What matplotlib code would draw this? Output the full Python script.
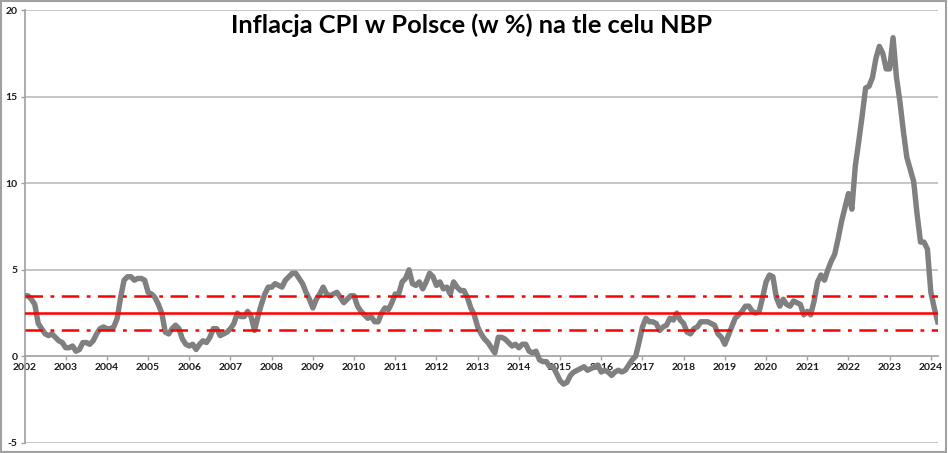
import matplotlib
matplotlib.use("Agg")
import matplotlib.pyplot as plt
from matplotlib.patches import Rectangle

plt.rcParams["axes.unicode_minus"] = False

# Monthly CPI y/y (%) Jan 2002 - Mar 2024
cpi_2002 = [3.5, 3.5, 3.3, 3.0, 1.9, 1.6, 1.3, 1.2, 1.3, 1.1, 0.9, 0.8]
cpi_2003 = [0.5, 0.5, 0.6, 0.3, 0.4, 0.8, 0.8, 0.7, 0.9, 1.3, 1.6, 1.7]
cpi_2004 = [1.6, 1.6, 1.7, 2.2, 3.4, 4.4, 4.6, 4.6, 4.4, 4.5, 4.5, 4.4]
cpi_2005 = [3.7, 3.6, 3.4, 3.0, 2.5, 1.4, 1.3, 1.6, 1.8, 1.6, 1.0, 0.7]
cpi_2006 = [0.6, 0.7, 0.4, 0.7, 0.9, 0.8, 1.1, 1.6, 1.6, 1.2, 1.3, 1.4]
cpi_2007 = [1.6, 1.9, 2.5, 2.3, 2.3, 2.6, 2.3, 1.5, 2.3, 3.0, 3.6, 4.0]
cpi_2008 = [4.0, 4.2, 4.1, 4.0, 4.4, 4.6, 4.8, 4.8, 4.5, 4.2, 3.7, 3.3]
cpi_2009 = [2.8, 3.3, 3.6, 4.0, 3.6, 3.5, 3.6, 3.7, 3.4, 3.1, 3.3, 3.5]
cpi_2010 = [3.5, 2.9, 2.6, 2.4, 2.2, 2.3, 2.0, 2.0, 2.5, 2.8, 2.7, 3.1]
cpi_2011 = [3.6, 3.6, 4.3, 4.5, 5.0, 4.2, 4.1, 4.3, 3.9, 4.3, 4.8, 4.6]
cpi_2012 = [4.1, 4.3, 3.9, 4.0, 3.6, 4.3, 4.0, 3.8, 3.8, 3.4, 2.8, 2.4]
cpi_2013 = [1.7, 1.3, 1.0, 0.8, 0.5, 0.2, 1.1, 1.1, 1.0, 0.8, 0.6, 0.7]
cpi_2014 = [0.5, 0.7, 0.7, 0.3, 0.2, 0.3, -0.2, -0.3, -0.3, -0.6, -0.6, -1.0]
cpi_2015 = [-1.4, -1.6, -1.5, -1.1, -0.9, -0.8, -0.7, -0.6, -0.8, -0.7, -0.6, -0.5]
cpi_2016 = [-0.9, -0.8, -0.9, -1.1, -0.9, -0.8, -0.9, -0.8, -0.5, -0.2, 0.0, 0.8]
cpi_2017 = [1.7, 2.2, 2.0, 2.0, 1.9, 1.5, 1.7, 1.8, 2.2, 2.1, 2.5, 2.1]
cpi_2018 = [1.9, 1.4, 1.3, 1.6, 1.7, 2.0, 2.0, 2.0, 1.9, 1.8, 1.3, 1.1]
cpi_2019 = [0.7, 1.2, 1.7, 2.2, 2.4, 2.6, 2.9, 2.9, 2.6, 2.5, 2.6, 3.4]
cpi_2020 = [4.3, 4.7, 4.6, 3.4, 2.9, 3.3, 3.0, 2.9, 3.2, 3.1, 3.0, 2.4]
cpi_2021 = [2.6, 2.4, 3.2, 4.3, 4.7, 4.4, 5.0, 5.5, 5.9, 6.8, 7.8, 8.6]
cpi_2022 = [9.4, 8.5, 11.0, 12.4, 13.9, 15.5, 15.6, 16.1, 17.2, 17.9, 17.5, 16.6]
cpi_2023 = [16.6, 18.4, 16.1, 14.7, 13.0, 11.5, 10.8, 10.1, 8.2, 6.6, 6.6, 6.2]
cpi_2024 = [3.7, 2.8, 2.0]

years = list(range(2002, 2025))
target = 2.5
band_upper = 3.5
band_lower = 1.5
title = "Inflacja CPI w Polsce (w %) na tle celu NBP"

cpi = (cpi_2002 + cpi_2003 + cpi_2004 + cpi_2005 + cpi_2006 + cpi_2007 + cpi_2008
       + cpi_2009 + cpi_2010 + cpi_2011 + cpi_2012 + cpi_2013 + cpi_2014 + cpi_2015
       + cpi_2016 + cpi_2017 + cpi_2018 + cpi_2019 + cpi_2020 + cpi_2021 + cpi_2022
       + cpi_2023 + cpi_2024)
x = list(range(len(cpi)))

fig = plt.figure(figsize=(9.48, 4.53), dpi=100)
ax = fig.add_axes([24.5 / 948, 1 - 443 / 453, (937.7 - 24.5) / 948, (443 - 10) / 453])

for v in [-5, 5, 10, 15, 20]:
    ax.axhline(v, color="#c0c0c0", lw=1.3, zorder=0)

ax.plot(x, cpi, color="#808080", lw=3.9, solid_joinstyle="round", zorder=3)
ax.axhline(target, color="#ff0000", lw=1.8, zorder=4)
ax.axhline(band_upper, color="#ff0000", lw=1.8, ls=(0, (7, 3, 1.5, 3)), zorder=4)
ax.axhline(band_lower, color="#ff0000", lw=1.8, ls=(0, (7, 3, 1.5, 3)), zorder=4)

ax.set_xlim(0, len(cpi) - 1)
ax.set_ylim(-5, 20)
ax.set_yticks([-5, 0, 5, 10, 15, 20])
ax.set_xticks([12 * i for i in range(len(years))])
ax.set_xticklabels([str(y) for y in years])

for s in ["top", "right"]:
    ax.spines[s].set_visible(False)
ax.spines["bottom"].set_position(("data", 0))
ax.spines["bottom"].set_color("#a0a0a0")
ax.spines["left"].set_color("#a0a0a0")
ax.spines["bottom"].set_linewidth(1.2)
ax.spines["left"].set_linewidth(1.2)

ax.tick_params(axis="both", length=3, width=1, color="#a0a0a0", labelsize=7.5, pad=2)
for lab in ax.get_xticklabels() + ax.get_yticklabels():
    lab.set_fontfamily("Lato")
    lab.set_fontweight("bold")
    lab.set_color("#1a1a1a")

fig.text(472 / 948, 1 - 25 / 453, title, ha="center", va="center",
         fontsize=18.3, fontweight="bold", family="Lato", color="black")

fig.patches.append(Rectangle((0.001, 0.002), 0.997, 0.995, transform=fig.transFigure,
                             fill=False, edgecolor="#a0a0a0", lw=1.5))

fig.savefig("out.png", dpi=100)
